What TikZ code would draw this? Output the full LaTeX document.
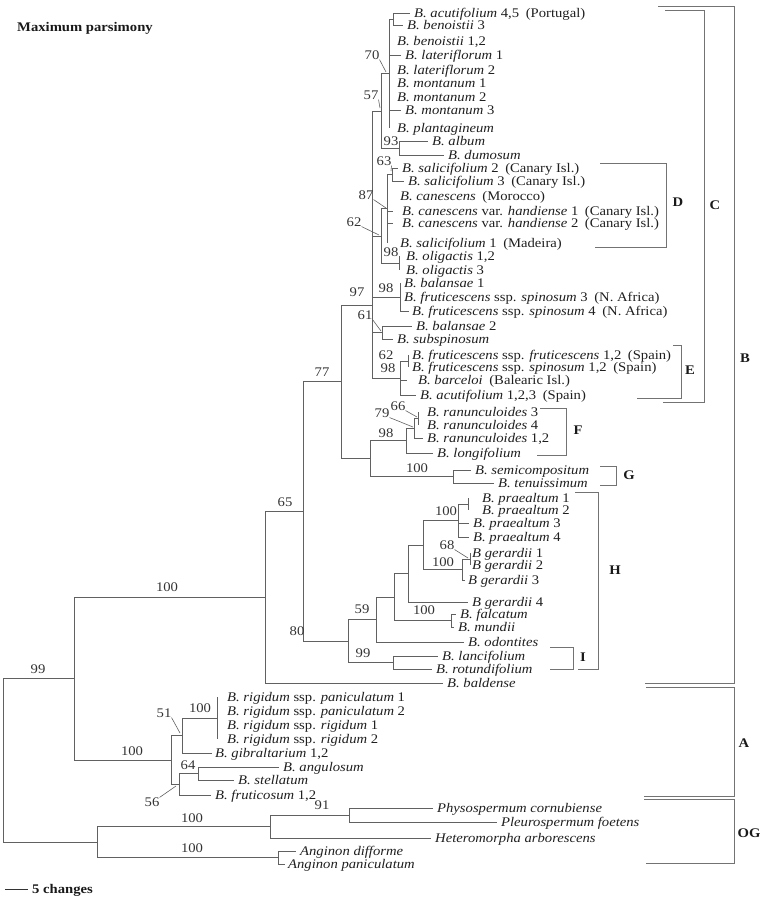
\documentclass[tikz,border=0pt]{standalone}
\usepackage{fontspec}
\setmainfont{Liberation Serif}[FakeStretch=1.11]
\newcommand\tx{\fontsize{13.2}{14}\selectfont}
\newcommand\tip[5]{\coordinate (#1) at (#2,#3);\node[lf] (#1t) at (#4,#3) {#5};}
\newcommand\bsl[3]{\node[bs] (#1) at (#2) {#3};}
\begin{document}
\begin{tikzpicture}[x=1pt,y=-1pt,
  br/.style={draw=black!62,line width=0.8pt},
  ptr/.style={draw=black!62,line width=0.6pt},
  brk/.style={draw=black!55,line width=0.8pt},
  lf/.style={anchor=west,inner sep=0pt,text height=8.7pt,text depth=0pt,font=\tx,text=black!88},
  bs/.style={inner sep=0pt,text height=8.7pt,text depth=0pt,font=\tx,text=black!80},
  clab/.style={inner sep=0pt,text height=8.7pt,text depth=0pt,font=\tx\bfseries,text=black!90}]
\useasboundingbox (0,0) rectangle (765,900);
% ---------- leaves
\tip{L1}{410}{13}{414}{\textit{B. acutifolium} 4,5\enspace(Portugal)}
\tip{L2}{403}{25}{407}{\textit{B. benoistii} 3}
\tip{L3}{389}{41}{397}{\textit{B. benoistii} 1,2}
\tip{L4}{401}{55}{405}{\textit{B. lateriflorum} 1}
\tip{L5}{389}{70}{397}{\textit{B. lateriflorum} 2}
\tip{L6}{389}{83}{397}{\textit{B. montanum} 1}
\tip{L7}{389}{97}{397}{\textit{B. montanum} 2}
\tip{L8}{401}{110}{405}{\textit{B. montanum} 3}
\tip{L9}{389}{128}{397}{\textit{B. plantagineum}}
\tip{L10}{428}{141.5}{432}{\textit{B. album}}
\tip{L11}{444}{155}{448}{\textit{B. dumosum}}
\tip{L12}{398}{168}{402}{\textit{B. salicifolium} 2\enspace(Canary Isl.)}
\tip{L13}{404}{181}{408}{\textit{B. salicifolium} 3\enspace(Canary Isl.)}
\tip{L14}{387}{196}{400}{\textit{B. canescens}\enspace(Morocco)}
\tip{L15}{393}{211}{402}{\textit{B. canescens} var. \textit{handiense} 1\enspace(Canary Isl.)}
\tip{L16}{393}{223}{402}{\textit{B. canescens} var. \textit{handiense} 2\enspace(Canary Isl.)}
\tip{L17}{387}{243}{400}{\textit{B. salicifolium} 1\enspace(Madeira)}
\tip{L18}{399}{256}{406}{\textit{B. oligactis} 1,2}
\tip{L19}{399}{270}{406}{\textit{B. oligactis} 3}
\tip{L20}{400}{283}{404}{\textit{B. balansae} 1}
\tip{L21}{400}{297}{404}{\textit{B. fruticescens} ssp. \textit{spinosum} 3\enspace(N. Africa)}
\tip{L22}{409}{311}{412}{\textit{B. fruticescens} ssp. \textit{spinosum} 4\enspace(N. Africa)}
\tip{L23}{412}{326}{416}{\textit{B. balansae} 2}
\tip{L24}{393}{339}{397}{\textit{B. subspinosum}}
\tip{L25}{408}{355}{412}{\textit{B. fruticescens} ssp. \textit{fruticescens} 1,2\enspace(Spain)}
\tip{L26}{408}{367}{412}{\textit{B. fruticescens} ssp. \textit{spinosum} 1,2\enspace(Spain)}
\tip{L27}{407}{380}{418}{\textit{B. barceloi}\enspace(Balearic Isl.)}
\tip{L28}{416}{395}{420}{\textit{B. acutifolium} 1,2,3\enspace(Spain)}
\tip{L29}{418}{412}{427}{\textit{B. ranunculoides} 3}
\tip{L30}{418}{425}{427}{\textit{B. ranunculoides} 4}
\tip{L31}{423}{438}{427}{\textit{B. ranunculoides} 1,2}
\tip{L32}{433}{453}{437}{\textit{B. longifolium}}
\tip{L33}{471}{470}{475}{\textit{B. semicompositum}}
\tip{L34}{494}{483}{498}{\textit{B. tenuissimum}}
\tip{L35}{468}{498}{482}{\textit{B. praealtum} 1}
\tip{L36}{468}{510}{482}{\textit{B. praealtum} 2}
\tip{L37}{469}{523}{473}{\textit{B. praealtum} 3}
\tip{L38}{469}{537}{473}{\textit{B. praealtum} 4}
\tip{L39}{470}{553}{472}{\textit{B gerardii} 1}
\tip{L40}{470}{565}{472}{\textit{B gerardii} 2}
\tip{L41}{465}{580}{468}{\textit{B gerardii} 3}
\tip{L42}{468}{602}{472}{\textit{B gerardii} 4}
\tip{L43}{456}{614}{460}{\textit{B. falcatum}}
\tip{L44}{454}{627}{458}{\textit{B. mundii}}
\tip{L45}{464}{642}{468}{\textit{B. odontites}}
\tip{L46}{438}{656}{442}{\textit{B. lancifolium}}
\tip{L47}{432}{669}{436}{\textit{B. rotundifolium}}
\tip{L48}{443}{683}{447}{\textit{B. baldense}}
\tip{L49}{217}{697}{227}{\textit{B. rigidum} ssp. \textit{paniculatum} 1}
\tip{L50}{217}{711}{227}{\textit{B. rigidum} ssp. \textit{paniculatum} 2}
\tip{L51}{217}{725}{227}{\textit{B. rigidum} ssp. \textit{rigidum} 1}
\tip{L52}{217}{739}{227}{\textit{B. rigidum} ssp. \textit{rigidum} 2}
\tip{L53}{212}{753}{215}{\textit{B. gibraltarium} 1,2}
\tip{L54}{279}{767}{283}{\textit{B. angulosum}}
\tip{L55}{234}{780}{238}{\textit{B. stellatum}}
\tip{L56}{211}{795}{215}{\textit{B. fruticosum} 1,2}
\tip{L57}{433}{808}{437}{\textit{Physospermum cornubiense}}
\tip{L58}{497}{822}{501}{\textit{Pleurospermum foetens}}
\tip{L59}{431}{838}{435}{\textit{Heteromorpha arborescens}}
\tip{L60}{296}{851}{300}{\textit{Anginon difforme}}
\tip{L61}{285}{864}{288}{\textit{Anginon paniculatum}}
% ---------- internal nodes
\coordinate (pA) at (393,19);
\coordinate (n70) at (389,73.5);
\coordinate (n93) at (399,148.3);
\coordinate (n57) at (381,110.9);
\coordinate (n63) at (392,174.5);
\coordinate (n87) at (387,208.8);
\coordinate (n98o) at (399,263);
\coordinate (n62) at (381,235.9);
\coordinate (n98b) at (400,297);
\coordinate (n61) at (382,332.5);
\coordinate (n62e) at (408,361);
\coordinate (nE) at (400,378);
\coordinate (n97) at (372,305);
\coordinate (n66) at (418,418.5);
\coordinate (n79) at (414,428.3);
\coordinate (nF) at (406,440.6);
\coordinate (nG) at (453,476.5);
\coordinate (nFG) at (370,458.6);
\coordinate (n77) at (341,381.8);
\coordinate (npr12) at (468,504);
\coordinate (npr) at (458,520.5);
\coordinate (ng12) at (470,559);
\coordinate (ng) at (462,569.5);
\coordinate (n423) at (423,545);
\coordinate (n408) at (408,573.5);
\coordinate (nfm) at (451,620.5);
\coordinate (n394) at (394,597);
\coordinate (n59) at (376,619.5);
\coordinate (nI) at (393,662.5);
\coordinate (n80) at (348,641);
\coordinate (n65) at (303,511.4);
\coordinate (nB) at (265,597.2);
\coordinate (nrig) at (217,718);
\coordinate (n51) at (182,735.5);
\coordinate (n64) at (198,773.5);
\coordinate (n56) at (179,784.3);
\coordinate (nA) at (171,759.9);
\coordinate (ning) at (74,678.6);
\coordinate (n91) at (349,815);
\coordinate (nOG2) at (270,826.5);
\coordinate (nAng) at (278,857.5);
\coordinate (nOG) at (97,842);
\coordinate (root) at (3,760);
% ---------- branches
\foreach \p/\c in {root/ning,root/nOG,ning/nB,ning/nA,nB/n65,nB/L48,n65/n77,n65/n80,
  n77/n97,n77/nFG,n97/n57,n97/n62,n97/n98b,n97/n61,n97/nE,
  n57/n70,n57/n93,n70/pA,n70/L3,n70/L4,n70/L5,n70/L6,n70/L7,n70/L8,n70/L9,pA/L1,pA/L2,
  n93/L10,n93/L11,n62/n87,n62/n98o,n87/n63,n87/L14,n87/L15,n87/L16,n87/L17,n63/L12,n63/L13,
  n98o/L18,n98o/L19,n98b/L20,n98b/L21,n98b/L22,n61/L23,n61/L24,nE/n62e,nE/L27,nE/L28,
  n62e/L25,n62e/L26,nFG/nF,nFG/nG,nF/n79,nF/L32,n79/n66,n79/L31,n66/L29,n66/L30,nG/L33,nG/L34,
  n80/n59,n80/nI,n59/n394,n59/L45,n394/n408,n394/nfm,n408/n423,n408/L42,n423/npr,n423/ng,
  npr/npr12,npr/L37,npr/L38,npr12/L35,npr12/L36,ng/ng12,ng/L41,ng12/L39,ng12/L40,nfm/L43,nfm/L44,
  nI/L46,nI/L47,nA/n51,nA/n56,n51/nrig,n51/L53,nrig/L49,nrig/L50,nrig/L51,nrig/L52,
  n56/n64,n56/L56,n64/L54,n64/L55,nOG/nOG2,nOG/nAng,nOG2/n91,nOG2/L59,n91/L57,n91/L58,
  nAng/L60,nAng/L61}
  \draw[br] (\p) |- (\c);
% ---------- support values
\bsl{b70}{372,55}{70}
\bsl{b57}{371,95}{57}
\bsl{b93}{391,141}{93}
\bsl{b63}{384,161}{63}
\bsl{b87}{366,195}{87}
\bsl{b62}{354,222}{62}
\bsl{b98o}{391,252}{98}
\bsl{b98b}{386,288}{98}
\bsl{b97}{357,292}{97}
\bsl{b61}{365,315}{61}
\bsl{b62e}{386,355}{62}
\bsl{b98e}{388,368}{98}
\bsl{b77}{322,372}{77}
\bsl{b66}{398,406}{66}
\bsl{b79}{382,413}{79}
\bsl{b98f}{386,433}{98}
\bsl{b100g}{417,468}{100}
\bsl{b100p}{446,511}{100}
\bsl{b68}{447,545}{68}
\bsl{b100ge}{443,562}{100}
\bsl{b59}{362,609}{59}
\bsl{b100f}{424,610}{100}
\bsl{b80}{297,631}{80}
\bsl{b99i}{363,653}{99}
\bsl{b65}{285,502}{65}
\bsl{b100b}{167,587}{100}
\bsl{b99}{38,669}{99}
\bsl{b100a}{132,751}{100}
\bsl{b51}{164,713}{51}
\bsl{b64}{188,765}{64}
\bsl{b56}{152,802}{56}
\bsl{b100r}{200,708}{100}
\bsl{b91}{322,805}{91}
\bsl{b100o}{192,818}{100}
\bsl{b100n}{192,848}{100}
% pointers
\coordinate (q70) at (386,72);
\coordinate (q57) at (380,108);
\coordinate (q63) at (391,171);
\coordinate (q87) at (386,208);
\coordinate (q62) at (379,235);
\coordinate (q61) at (381,331);
\coordinate (q66) at (417,417);
\coordinate (q79) at (413,427);
\coordinate (q68) at (468,558);
\coordinate (q51) at (180,733);
\coordinate (q56) at (176,786);
\draw[ptr] (b70.south east) -- (q70);
\draw[ptr] (b57.south east) -- (q57);
\draw[ptr] (b63.south east) -- (q63);
\draw[ptr] (b87.south east) -- (q87);
\draw[ptr] (b62.south east) -- (q62);
\draw[ptr] (b61.south east) -- (q61);
\draw[ptr] (b66.south east) -- (q66);
\draw[ptr] (b79.south east) -- (q79);
\draw[ptr] (b68.south east) -- (q68);
\draw[ptr] (b51.south east) -- (q51);
\draw[ptr] (b56.north east) -- (q56);
% ---------- clade brackets
\draw[brk] (665,10) -- (704,10) -- (704,402) -- (663,402);
\node[clab] (cC) at (715,205) {C};
\draw[brk] (658,6) -- (734,6) -- (734,683) -- (645,683);
\node[clab] (cB) at (745,358) {B};
\draw[brk] (600,163) -- (666,163) -- (666,247) -- (595,247);
\node[clab] (cD) at (678,202) {D};
\draw[brk] (673,345) -- (681,345) -- (681,398) -- (637,398);
\node[clab] (cE) at (690,370) {E};
\draw[brk] (540,408) -- (566,408) -- (566,455) -- (537,455);
\node[clab] (cF) at (578,430) {F};
\draw[brk] (600,466) -- (616,466) -- (616,485) -- (600,485);
\node[clab] (cG) at (629,475) {G};
\draw[brk] (575,492) -- (598,492) -- (598,669) -- (578,669);
\node[clab] (cH) at (615,570) {H};
\draw[brk] (550,647) -- (573,647) -- (573,669) -- (550,669);
\node[clab] (cI) at (583,657) {I};
\draw[brk] (646,687) -- (734,687) -- (734,796) -- (644,796);
\node[clab] (cA) at (744,743) {A};
\draw[brk] (644,799) -- (734,799) -- (734,863) -- (646,863);
\node[clab] (cOG) at (749,833) {OG};
% ---------- title and scale
\node[clab,anchor=west] (title) at (17,27) {Maximum parsimony};
\coordinate (s1) at (5,889);
\coordinate (s2) at (28,889);
\draw[br,draw=black!80] (s1) -- (s2);
\node[clab,anchor=west] (scale) at (32,889) {5 changes};
\end{tikzpicture}
\end{document}
